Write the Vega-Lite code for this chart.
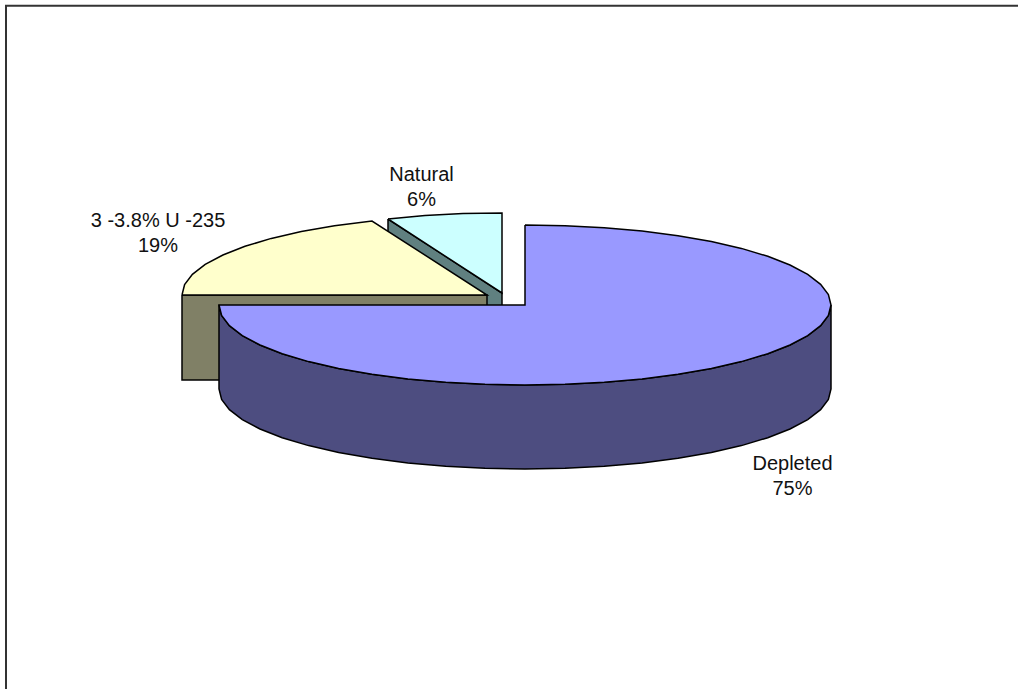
{
  "$schema": "https://vega.github.io/schema/vega-lite/v6.json",
  "width": 1018,
  "height": 689,
  "autosize": {"type": "fit", "contains": "padding"},
  "padding": 0,
  "background": "white",
  "view": {"stroke": null},
  "datasets": {
    "outlines": [
      {"part": "Natural side", "seq": 1, "x": 388, "y": 219},
      {"part": "Natural side", "seq": 2, "x": 502, "y": 293},
      {"part": "Natural side", "seq": 3, "x": 502, "y": 377},
      {"part": "Natural side", "seq": 4, "x": 388, "y": 303},
      {"part": "Natural side", "seq": 5, "x": 388, "y": 219},

      {"part": "Natural top", "seq": 1, "x": 388, "y": 219},
      {"part": "Natural top", "seq": 2, "x": 425, "y": 215.6},
      {"part": "Natural top", "seq": 3, "x": 463, "y": 213.6},
      {"part": "Natural top", "seq": 4, "x": 502, "y": 213},
      {"part": "Natural top", "seq": 5, "x": 502, "y": 293},
      {"part": "Natural top", "seq": 6, "x": 388, "y": 219},

      {"part": "Enriched side", "seq": 1, "x": 182, "y": 295},
      {"part": "Enriched side", "seq": 2, "x": 487, "y": 295},
      {"part": "Enriched side", "seq": 3, "x": 487, "y": 380},
      {"part": "Enriched side", "seq": 4, "x": 182, "y": 380},
      {"part": "Enriched side", "seq": 5, "x": 182, "y": 295},

      {"part": "Enriched top", "seq": 1, "x": 182, "y": 295},
      {"part": "Enriched top", "seq": 2, "x": 184.6, "y": 284.6},
      {"part": "Enriched top", "seq": 3, "x": 192.4, "y": 274.3},
      {"part": "Enriched top", "seq": 4, "x": 205.2, "y": 264.4},
      {"part": "Enriched top", "seq": 5, "x": 222.9, "y": 255},
      {"part": "Enriched top", "seq": 6, "x": 245, "y": 246.3},
      {"part": "Enriched top", "seq": 7, "x": 271.3, "y": 238.4},
      {"part": "Enriched top", "seq": 8, "x": 301.3, "y": 231.5},
      {"part": "Enriched top", "seq": 9, "x": 334.5, "y": 225.7},
      {"part": "Enriched top", "seq": 10, "x": 372, "y": 221},
      {"part": "Enriched top", "seq": 11, "x": 487, "y": 295},
      {"part": "Enriched top", "seq": 12, "x": 182, "y": 295},

      {"part": "Depleted side", "seq": 1, "x": 831, "y": 305},
      {"part": "Depleted side", "seq": 2, "x": 828.4, "y": 315.4},
      {"part": "Depleted side", "seq": 3, "x": 820.6, "y": 325.7},
      {"part": "Depleted side", "seq": 4, "x": 807.7, "y": 335.6},
      {"part": "Depleted side", "seq": 5, "x": 790, "y": 345},
      {"part": "Depleted side", "seq": 6, "x": 767.8, "y": 353.7},
      {"part": "Depleted side", "seq": 7, "x": 741.4, "y": 361.6},
      {"part": "Depleted side", "seq": 8, "x": 711.4, "y": 368.5},
      {"part": "Depleted side", "seq": 9, "x": 678, "y": 374.3},
      {"part": "Depleted side", "seq": 10, "x": 642.1, "y": 378.9},
      {"part": "Depleted side", "seq": 11, "x": 604.2, "y": 382.3},
      {"part": "Depleted side", "seq": 12, "x": 565, "y": 384.3},
      {"part": "Depleted side", "seq": 13, "x": 525, "y": 385},
      {"part": "Depleted side", "seq": 14, "x": 485, "y": 384.3},
      {"part": "Depleted side", "seq": 15, "x": 445.8, "y": 382.3},
      {"part": "Depleted side", "seq": 16, "x": 407.9, "y": 378.9},
      {"part": "Depleted side", "seq": 17, "x": 372, "y": 374.3},
      {"part": "Depleted side", "seq": 18, "x": 338.6, "y": 368.5},
      {"part": "Depleted side", "seq": 19, "x": 308.6, "y": 361.6},
      {"part": "Depleted side", "seq": 20, "x": 282.2, "y": 353.7},
      {"part": "Depleted side", "seq": 21, "x": 260, "y": 345},
      {"part": "Depleted side", "seq": 22, "x": 242.3, "y": 335.6},
      {"part": "Depleted side", "seq": 23, "x": 229.4, "y": 325.7},
      {"part": "Depleted side", "seq": 24, "x": 221.6, "y": 315.4},
      {"part": "Depleted side", "seq": 25, "x": 219, "y": 305},
      {"part": "Depleted side", "seq": 26, "x": 219, "y": 389},
      {"part": "Depleted side", "seq": 27, "x": 221.6, "y": 399.4},
      {"part": "Depleted side", "seq": 28, "x": 229.4, "y": 409.7},
      {"part": "Depleted side", "seq": 29, "x": 242.3, "y": 419.6},
      {"part": "Depleted side", "seq": 30, "x": 260, "y": 429},
      {"part": "Depleted side", "seq": 31, "x": 282.2, "y": 437.7},
      {"part": "Depleted side", "seq": 32, "x": 308.6, "y": 445.6},
      {"part": "Depleted side", "seq": 33, "x": 338.6, "y": 452.5},
      {"part": "Depleted side", "seq": 34, "x": 372, "y": 458.3},
      {"part": "Depleted side", "seq": 35, "x": 407.9, "y": 462.9},
      {"part": "Depleted side", "seq": 36, "x": 445.8, "y": 466.3},
      {"part": "Depleted side", "seq": 37, "x": 485, "y": 468.3},
      {"part": "Depleted side", "seq": 38, "x": 525, "y": 469},
      {"part": "Depleted side", "seq": 39, "x": 565, "y": 468.3},
      {"part": "Depleted side", "seq": 40, "x": 604.2, "y": 466.3},
      {"part": "Depleted side", "seq": 41, "x": 642.1, "y": 462.9},
      {"part": "Depleted side", "seq": 42, "x": 678, "y": 458.3},
      {"part": "Depleted side", "seq": 43, "x": 711.4, "y": 452.5},
      {"part": "Depleted side", "seq": 44, "x": 741.4, "y": 445.6},
      {"part": "Depleted side", "seq": 45, "x": 767.8, "y": 437.7},
      {"part": "Depleted side", "seq": 46, "x": 790, "y": 429},
      {"part": "Depleted side", "seq": 47, "x": 807.7, "y": 419.6},
      {"part": "Depleted side", "seq": 48, "x": 820.6, "y": 409.7},
      {"part": "Depleted side", "seq": 49, "x": 828.4, "y": 399.4},
      {"part": "Depleted side", "seq": 50, "x": 831, "y": 389},
      {"part": "Depleted side", "seq": 51, "x": 831, "y": 305},

      {"part": "Depleted top", "seq": 1, "x": 525, "y": 225},
      {"part": "Depleted top", "seq": 2, "x": 565, "y": 225.7},
      {"part": "Depleted top", "seq": 3, "x": 604.2, "y": 227.7},
      {"part": "Depleted top", "seq": 4, "x": 642.1, "y": 231.1},
      {"part": "Depleted top", "seq": 5, "x": 678, "y": 235.7},
      {"part": "Depleted top", "seq": 6, "x": 711.4, "y": 241.5},
      {"part": "Depleted top", "seq": 7, "x": 741.4, "y": 248.4},
      {"part": "Depleted top", "seq": 8, "x": 767.8, "y": 256.3},
      {"part": "Depleted top", "seq": 9, "x": 790, "y": 265},
      {"part": "Depleted top", "seq": 10, "x": 807.7, "y": 274.4},
      {"part": "Depleted top", "seq": 11, "x": 820.6, "y": 284.3},
      {"part": "Depleted top", "seq": 12, "x": 828.4, "y": 294.6},
      {"part": "Depleted top", "seq": 13, "x": 831, "y": 305},
      {"part": "Depleted top", "seq": 14, "x": 828.4, "y": 315.4},
      {"part": "Depleted top", "seq": 15, "x": 820.6, "y": 325.7},
      {"part": "Depleted top", "seq": 16, "x": 807.7, "y": 335.6},
      {"part": "Depleted top", "seq": 17, "x": 790, "y": 345},
      {"part": "Depleted top", "seq": 18, "x": 767.8, "y": 353.7},
      {"part": "Depleted top", "seq": 19, "x": 741.4, "y": 361.6},
      {"part": "Depleted top", "seq": 20, "x": 711.4, "y": 368.5},
      {"part": "Depleted top", "seq": 21, "x": 678, "y": 374.3},
      {"part": "Depleted top", "seq": 22, "x": 642.1, "y": 378.9},
      {"part": "Depleted top", "seq": 23, "x": 604.2, "y": 382.3},
      {"part": "Depleted top", "seq": 24, "x": 565, "y": 384.3},
      {"part": "Depleted top", "seq": 25, "x": 525, "y": 385},
      {"part": "Depleted top", "seq": 26, "x": 485, "y": 384.3},
      {"part": "Depleted top", "seq": 27, "x": 445.8, "y": 382.3},
      {"part": "Depleted top", "seq": 28, "x": 407.9, "y": 378.9},
      {"part": "Depleted top", "seq": 29, "x": 372, "y": 374.3},
      {"part": "Depleted top", "seq": 30, "x": 338.6, "y": 368.5},
      {"part": "Depleted top", "seq": 31, "x": 308.6, "y": 361.6},
      {"part": "Depleted top", "seq": 32, "x": 282.2, "y": 353.7},
      {"part": "Depleted top", "seq": 33, "x": 260, "y": 345},
      {"part": "Depleted top", "seq": 34, "x": 242.3, "y": 335.6},
      {"part": "Depleted top", "seq": 35, "x": 229.4, "y": 325.7},
      {"part": "Depleted top", "seq": 36, "x": 221.6, "y": 315.4},
      {"part": "Depleted top", "seq": 37, "x": 219, "y": 305},
      {"part": "Depleted top", "seq": 38, "x": 525, "y": 305},
      {"part": "Depleted top", "seq": 39, "x": 525, "y": 225}
    ],
    "labels": [
      {"category": "Natural", "share": "6%", "x": 421.5, "y": 206},
      {"category": "3 -3.8% U -235", "share": "19%", "x": 158, "y": 252},
      {"category": "Depleted", "share": "75%", "x": 792.5, "y": 495}
    ],
    "frame": [
      {"seq": 1, "x": 6, "y": 689},
      {"seq": 2, "x": 6, "y": 5.7},
      {"seq": 3, "x": 1018, "y": 5.7}
    ]
  },
  "encoding": {
    "x": {"field": "x", "type": "quantitative", "axis": null, "scale": {"domain": [0, 1018], "nice": false, "zero": false}},
    "y": {"field": "y", "type": "quantitative", "axis": null, "scale": {"domain": [689, 0], "nice": false, "zero": false}}
  },
  "layer": [
    {
      "data": {"name": "frame"},
      "mark": {"type": "line", "stroke": "#333333", "strokeWidth": 2, "clip": true},
      "encoding": {"order": {"field": "seq", "type": "ordinal"}}
    },
    {
      "data": {"name": "outlines"},
      "mark": {"type": "line", "filled": true, "stroke": "black", "strokeWidth": 1.5, "strokeJoin": "miter"},
      "encoding": {
        "order": {"field": "seq", "type": "quantitative"},
        "detail": {"field": "part"},
        "fill": {
          "field": "part",
          "type": "nominal",
          "legend": null,
          "sort": ["Natural side", "Natural top", "Enriched side", "Enriched top", "Depleted side", "Depleted top"],
          "scale": {
            "domain": ["Natural side", "Natural top", "Enriched side", "Enriched top", "Depleted side", "Depleted top"],
            "range": ["#608080", "#CCFFFF", "#808066", "#FFFFCC", "#4D4D80", "#9999FF"]
          }
        }
      }
    },
    {
      "data": {"name": "labels"},
      "mark": {"type": "text", "font": "Liberation Sans", "fontSize": 20, "align": "center", "baseline": "alphabetic", "color": "#111111", "dy": -25},
      "encoding": {"text": {"field": "category"}}
    },
    {
      "data": {"name": "labels"},
      "mark": {"type": "text", "font": "Liberation Sans", "fontSize": 20, "align": "center", "baseline": "alphabetic", "color": "#111111"},
      "encoding": {"text": {"field": "share"}}
    }
  ]
}
